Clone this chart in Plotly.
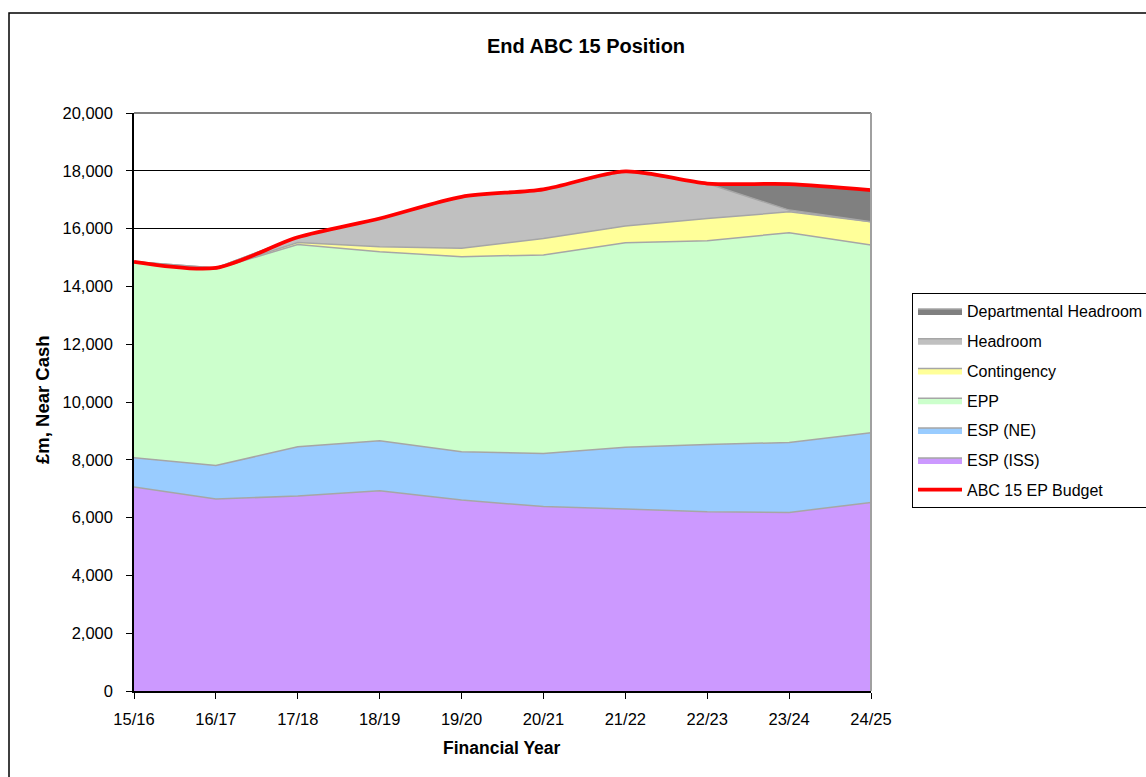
import plotly.graph_objects as go

# Financial years along the x axis
years = ["15/16", "16/17", "17/18", "18/19", "19/20", "20/21", "21/22", "22/23", "23/24", "24/25"]

# Stacked components (£m, near cash)
esp_iss = [7060, 6640, 6750, 6930, 6610, 6380, 6300, 6200, 6180, 6520]
esp_ne = [1010, 1160, 1700, 1730, 1670, 1840, 2130, 2330, 2420, 2420]
epp = [6780, 6800, 7000, 6540, 6750, 6870, 7080, 7050, 7260, 6490]
contingency = [0, 0, 70, 170, 290, 570, 580, 770, 720, 810]
headroom = [0, 40, 180, 980, 1780, 1700, 1890, 1210, 60, 0]
dept_headroom = [0, 0, 0, 0, 0, 0, 0, 0, 900, 1090]

# Budget line
budget = [14850, 14640, 15700, 16350, 17100, 17360, 17980, 17560, 17540, 17330]

y_ticks = list(range(0, 20001, 2000))

FONT = "Liberation Sans, Arial, sans-serif"
W, H = 1146, 777
L, R, T, B = 134, 871, 113, 691

xpos = list(range(len(years)))

layers = [
    ("ESP (ISS)", esp_iss, "#CC99FF", 6),
    ("ESP (NE)", esp_ne, "#99CCFF", 5),
    ("EPP", epp, "#CCFFCC", 4),
    ("Contingency", contingency, "#FFFF99", 3),
    ("Headroom", headroom, "#C0C0C0", 2),
    ("Departmental Headroom", dept_headroom, "#808080", 1),
]

fig = go.Figure()
for name, vals, color, rank in layers:
    fig.add_trace(go.Scatter(
        x=xpos, y=vals, name=name, mode="lines",
        stackgroup="one", fillcolor=color,
        line=dict(color="#A6A6A6", width=1.5),
        legendrank=rank, legendgroup=name,
        hoverinfo="skip",
    ))

fig.add_trace(go.Scatter(
    x=xpos, y=budget, name="ABC 15 EP Budget", mode="lines",
    line=dict(color="#FF0000", width=3.8, shape="spline", smoothing=0.8),
    legendrank=7, legendgroup="budget", hoverinfo="skip",
))

def px_x(p):
    return (p - L) / (R - L)

def px_y(p):
    return (B - p) / (B - T)

shapes = [
    # outer chart frame
    dict(type="rect", xref="paper", yref="paper",
         x0=px_x(9), x1=px_x(1200), y0=px_y(820), y1=px_y(13),
         line=dict(color="#000000", width=1.5), fillcolor="rgba(0,0,0,0)", layer="above"),
    # plot area top and right edges
    dict(type="line", xref="paper", yref="paper", x0=0, x1=1, y0=1, y1=1,
         line=dict(color="#808080", width=2)),
    dict(type="line", xref="paper", yref="paper", x0=1, x1=1, y0=0, y1=1,
         line=dict(color="#A0A0A0", width=2)),
]

fig.update_layout(
    width=W, height=H,
    margin=dict(l=L, r=W - R, t=T, b=H - B),
    paper_bgcolor="white", plot_bgcolor="white",
    font=dict(family=FONT, size=16.5, color="#000000"),
    title=dict(text="<b>End ABC 15 Position</b>", x=586 / W, xref="container",
               y=1 - 46 / H, yref="container", xanchor="center", yanchor="middle",
               font=dict(family=FONT, size=20, color="#000000")),
    showlegend=True,
    legend=dict(
        xref="container", yref="container",
        x=912 / W, y=1 - 293 / H, xanchor="left", yanchor="top",
        bordercolor="#000000", borderwidth=1, bgcolor="white",
        font=dict(family=FONT, size=16, color="#000000"),
        tracegroupgap=6, itemwidth=44,
    ),
    shapes=shapes,
    hovermode=False,
)

fig.update_xaxes(
    range=[0, len(years) - 1], tickmode="array", tickvals=xpos, ticktext=years,
    showgrid=False, zeroline=False, showline=True, linecolor="#000000", linewidth=1.5,
    ticks="outside", ticklen=6, tickcolor="#000000", tickwidth=1,
    ticklabelstandoff=6,
    tickfont=dict(family=FONT, size=16.5, color="#000000"),
)
fig.update_yaxes(
    range=[0, 20000], tickmode="array", tickvals=y_ticks,
    ticktext=[f"{v:,}" for v in y_ticks],
    showgrid=True, gridcolor="#000000", gridwidth=1, zeroline=False,
    showline=True, linecolor="#000000", linewidth=1.5,
    ticks="outside", ticklen=6, tickcolor="#000000", tickwidth=1,
    ticklabelstandoff=10,
    tickfont=dict(family=FONT, size=16.5, color="#000000"),
)

fig.add_annotation(text="<b>Financial Year</b>", xref="paper", yref="paper",
                   x=px_x(502), y=px_y(748), showarrow=False,
                   xanchor="center", yanchor="middle",
                   font=dict(family=FONT, size=17.5, color="#000000"))
fig.add_annotation(text="<b>£m, Near Cash</b>", xref="paper", yref="paper",
                   x=px_x(43), y=px_y(400), showarrow=False, textangle=-90,
                   xanchor="center", yanchor="middle",
                   font=dict(family=FONT, size=18.5, color="#000000"))

fig.write_html("out.html")
